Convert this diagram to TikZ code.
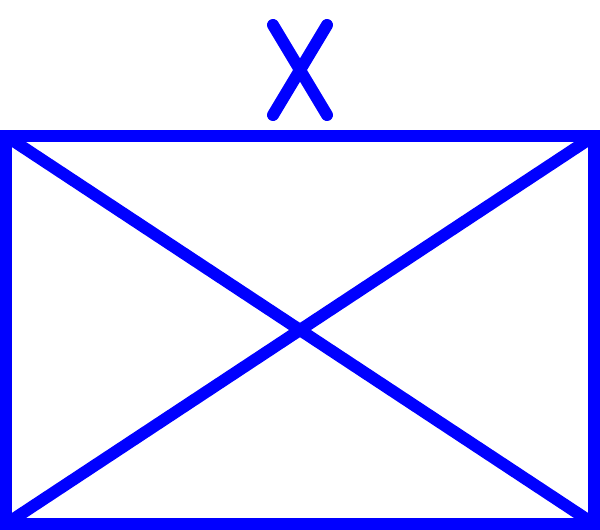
\documentclass[tikz,border=0pt]{standalone}
\begin{document}
\begin{tikzpicture}[x=0.5pt,y=-0.5pt,
  sym/.style={draw=blue,line width=6pt}]
\useasboundingbox (0,0) rectangle (600,530);
\coordinate (tl) at (6,136);
\coordinate (tr) at (594,136);
\coordinate (bl) at (6,524);
\coordinate (br) at (594,524);
\coordinate (x1) at (273,25);
\coordinate (x2) at (327,115);
\coordinate (x3) at (327,25);
\coordinate (x4) at (273,115);
\draw[sym] (tl) rectangle (br);
\draw[sym] (tl) -- (br);
\draw[sym] (tr) -- (bl);
\draw[sym,line cap=round] (x1) -- (x2);
\draw[sym,line cap=round] (x3) -- (x4);
\end{tikzpicture}
\end{document}
